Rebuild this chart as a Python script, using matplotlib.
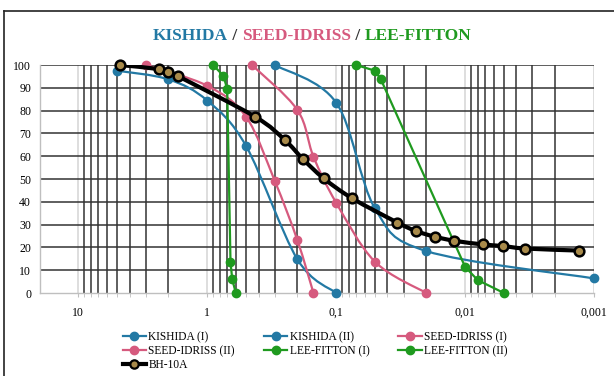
import numpy as np
import matplotlib
matplotlib.use("Agg")
import matplotlib.pyplot as plt
from matplotlib.path import Path
from matplotlib.patches import PathPatch
from matplotlib.lines import Line2D
from matplotlib.offsetbox import TextArea, HPacker, AnchoredOffsetbox
from matplotlib.ticker import FixedLocator, NullFormatter

plt.rcParams["font.family"] = ["Liberation Serif", "DejaVu Serif"]

# Grain size (mm) vs. percent passing
kishida1_x = [5, 2, 1, 0.5, 0.2, 0.1]
kishida1_y = [97.5, 93.7, 84.4, 64.5, 14.8, 0]
kishida2_x = [0.3, 0.1, 0.05, 0.02, 0.001]
kishida2_y = [100, 83.5, 37.1, 18.4, 6.4]
seed1_x = [3, 1, 0.5, 0.3, 0.2, 0.15]
seed1_y = [100, 90.9, 77.3, 49.3, 23.2, 0]
seed2_x = [0.45, 0.2, 0.15, 0.1, 0.05, 0.02]
seed2_y = [100, 80.3, 59.8, 39.6, 13.7, 0]
lee1_x = [0.9, 0.75, 0.7, 0.66, 0.64, 0.6]
lee1_y = [100, 95.3, 89.5, 13.7, 6, 0]
lee2_x = [0.07, 0.05, 0.045, 0.01, 0.008, 0.005]
lee2_y = [100, 97.5, 93.7, 11.5, 5.7, 0]
bh_x = [4.75, 2.36, 2.0, 1.7, 0.425, 0.25, 0.18, 0.125, 0.075,
        0.0335, 0.0241, 0.0172, 0.0121, 0.0073, 0.0051, 0.0034, 0.0013]
bh_y = [100, 98.2, 96.8, 95.2, 77.3, 67.1, 58.6, 50.3, 41.5,
        30.9, 27.2, 24.7, 22.9, 21.3, 20.6, 19.5, 18.6]

x_ticks = [10, 1, 0.1, 0.01, 0.001]
x_tick_labels = ["10", "1", "0,1", "0,01", "0,001"]
y_ticks = list(range(0, 101, 10))

BLUE = "#2379a4"
PINK = "#d65a7e"
GREEN = "#1f9a1f"


def smooth_path(xs, ys):
    """Catmull-Rom style Bezier path through the points, built in log-x space."""
    P = np.column_stack([np.log10(xs), np.asarray(ys, float)])
    n = len(P)
    verts = [P[0]]
    codes = [Path.MOVETO]
    for i in range(n - 1):
        p0 = P[i - 1] if i > 0 else P[i]
        p1, p2 = P[i], P[i + 1]
        p3 = P[i + 2] if i + 2 < n else P[i + 1]
        verts += [p1 + (p2 - p0) / 6, p2 - (p3 - p1) / 6, p2]
        codes += [Path.CURVE4] * 3
    V = np.array(verts)
    V[:, 0] = 10 ** V[:, 0]
    return Path(V, codes)


fig = plt.figure(figsize=(6.14, 3.76), dpi=100)
ax = fig.add_axes([39.5 / 614, 1 - 293 / 376, (594 - 39.5) / 614, 228 / 376])
ax.set_xscale("log")
ax.set_xlim(20, 0.001)
ax.set_ylim(0, 100)
ax.set_axisbelow(True)

ax.xaxis.set_major_locator(FixedLocator(x_ticks))
ax.set_xticklabels(x_tick_labels)
minor_x = [k * 10.0 ** e for e in (-3, -2, -1, 0) for k in range(2, 10)]
ax.xaxis.set_minor_locator(FixedLocator(minor_x))
ax.xaxis.set_minor_formatter(NullFormatter())
ax.set_yticks(y_ticks)

ax.grid(which="minor", axis="x", color="#333333", lw=1.1)
ax.grid(which="major", axis="x", color="#d4d4d4", lw=1.1)
ax.grid(which="major", axis="y", color="#333333", lw=1.1)
# the baseline is the grey axis itself
ax.yaxis.get_major_ticks()[0].gridline.set_visible(False)

for s in ("top", "right"):
    ax.spines[s].set_visible(False)
for s in ("left", "bottom"):
    ax.spines[s].set_color("#bfbfbf")
    ax.spines[s].set_linewidth(1.0)

ax.tick_params(axis="x", which="both", length=3, color="#bfbfbf",
               labelsize=8.5, pad=7)
ax.tick_params(axis="y", length=0, labelsize=8.5, pad=6)

smooth_series = [
    (kishida1_x, kishida1_y, BLUE),
    (kishida2_x, kishida2_y, BLUE),
    (seed1_x, seed1_y, PINK),
    (seed2_x, seed2_y, PINK),
]
for xs, ys, c in smooth_series:
    ax.add_patch(PathPatch(smooth_path(xs, ys), fill=False, ec=c, lw=1.6,
                           transform=ax.transData, zorder=3))
    ax.plot(xs, ys, "o", color=c, ms=6, zorder=4, clip_on=False)

for xs, ys in ((lee1_x, lee1_y), (lee2_x, lee2_y)):
    ax.plot(xs, ys, "-o", color=GREEN, lw=1.6, ms=6, zorder=4, clip_on=False)

ax.add_patch(PathPatch(smooth_path(bh_x, bh_y), fill=False, ec="black",
                       lw=3.0, transform=ax.transData, zorder=5))
ax.plot(bh_x, bh_y, "o", mfc="#a88a4a", mec="black", mew=1.8, ms=7,
        zorder=6, clip_on=False)

# Multi-coloured title
parts = [("KISHIDA", BLUE), (" / ", "#333333"), ("SEED-IDRISS", PINK),
         (" / ", "#333333"), ("LEE-FITTON", GREEN)]
areas = [TextArea(t, textprops=dict(color=c, fontsize=12.5, fontweight="bold"))
         for t, c in parts]
title = AnchoredOffsetbox(loc="center", child=HPacker(children=areas, sep=0, pad=0),
                          bbox_to_anchor=(312 / 614, 1 - 36 / 376),
                          bbox_transform=fig.transFigure, frameon=False,
                          pad=0, borderpad=0)
ax.add_artist(title)
title.set_clip_on(False)


# Legend (row-major reading order across three columns)
def handle(c, **kw):
    return Line2D([], [], color=c, marker="o", ms=6, lw=1.6, **kw)


h_k1 = handle(BLUE)
h_k2 = handle(BLUE)
h_s1 = handle(PINK)
h_s2 = handle(PINK)
h_l1 = handle(GREEN)
h_l2 = handle(GREEN)
h_bh = Line2D([], [], color="black", marker="o", ms=6, lw=3.0,
              mfc="#a88a4a", mec="black", mew=1.6)
handles = [h_k1, h_s2, h_bh, h_k2, h_l1, h_s1, h_l2]
labels = ["KISHIDA (I)", "SEED-IDRISS (II)", "BH-10A", "KISHIDA (II)",
          "LEE-FITTON (I)", "SEED-IDRISS (I)", "LEE-FITTON (II)"]
fig.legend(handles, labels, ncol=3, loc="upper left",
           bbox_to_anchor=(122.5 / 614, 1 - 331 / 376), frameon=False,
           fontsize=8.3, handlelength=2.05, handletextpad=0.2,
           columnspacing=2.5, labelspacing=0.18, borderaxespad=0,
           borderpad=0)

# Outer frame
fig.add_artist(Line2D([4 / 614, 4 / 614], [0, 1 - 11 / 376],
                      transform=fig.transFigure, color="#222222", lw=1.2))
fig.add_artist(Line2D([4 / 614, 1], [1 - 11 / 376, 1 - 11 / 376],
                      transform=fig.transFigure, color="#222222", lw=1.2))

fig.savefig("out.png", dpi=100)
